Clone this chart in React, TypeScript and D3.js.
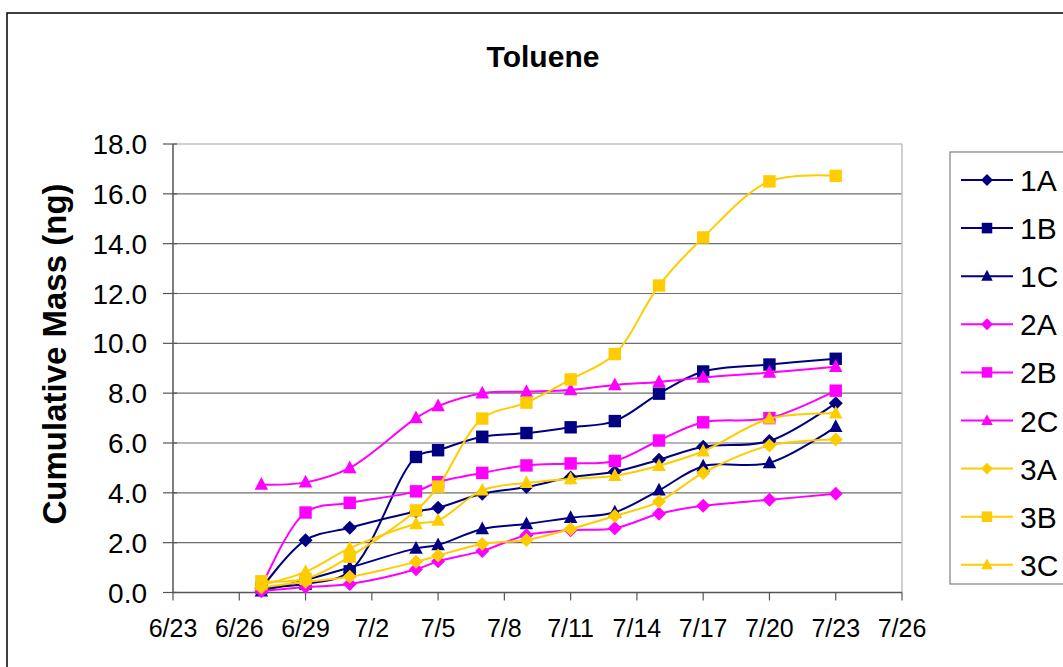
import React from "react";
import * as d3 from "d3";

const dates = ["6/27", "6/29", "7/1", "7/4", "7/5", "7/7", "7/9", "7/11", "7/13", "7/15", "7/17", "7/20", "7/23"];
const tickLabels = ["6/23", "6/26", "6/29", "7/2", "7/5", "7/8", "7/11", "7/14", "7/17", "7/20", "7/23", "7/26"];
const yTicks = [0, 2, 4, 6, 8, 10, 12, 14, 16, 18];

const s1A = [0.15, 2.1, 2.6, 3.25, 3.4, 3.96, 4.23, 4.62, 4.85, 5.33, 5.85, 6.08, 7.6];
const s1B = [0.2, 0.35, 0.85, 5.44, 5.71, 6.25, 6.4, 6.63, 6.88, 7.98, 8.87, 9.15, 9.38];
const s1C = [0.05, 0.5, 1.0, 1.77, 1.91, 2.55, 2.75, 3.0, 3.22, 4.1, 5.07, 5.2, 6.65];
const s2A = [0.05, 0.22, 0.34, 0.93, 1.25, 1.67, 2.3, 2.5, 2.58, 3.16, 3.48, 3.72, 3.96];
const s2B = [0.2, 3.21, 3.6, 4.06, 4.43, 4.8, 5.1, 5.18, 5.28, 6.1, 6.83, 7.0, 8.1];
const s2C = [4.33, 4.42, 5.0, 7.0, 7.48, 8.0, 8.06, 8.13, 8.33, 8.45, 8.63, 8.83, 9.06];
const s3A = [0.2, 0.43, 0.63, 1.23, 1.48, 1.95, 2.11, 2.55, 3.07, 3.65, 4.8, 5.9, 6.14];
const s3B = [0.45, 0.55, 1.44, 3.29, 4.25, 6.98, 7.62, 8.55, 9.57, 12.32, 14.25, 16.5, 16.72];
const s3C = [0.3, 0.83, 1.78, 2.75, 2.89, 4.1, 4.4, 4.56, 4.69, 5.09, 5.67, 6.98, 7.19];

const seriesNames = ["1A", "1B", "1C", "2A", "2B", "2C", "3A", "3B", "3C"];
const seriesValues = [s1A, s1B, s1C, s2A, s2B, s2C, s3A, s3B, s3C];
const seriesColors = ["#000080", "#000080", "#000080", "#FF00FF", "#FF00FF", "#FF00FF", "#FFCC00", "#FFCC00", "#FFCC00"];
const seriesShapes = ["diamond", "square", "triangle", "diamond", "square", "triangle", "diamond", "square", "triangle"];

const YEAR = 2007;
const parseMD = (s: string) => {
  const [m, d] = s.split("/").map(Number);
  return new Date(Date.UTC(YEAR, m - 1, d));
};

const W = 1063;
const H = 667;
const plot = { left: 173, right: 902, top: 144, bottom: 592.5 };

function Marker({ shape, x, y, color, scale = 1 }: { shape: string; x: number; y: number; color: string; scale?: number }) {
  if (shape === "diamond") {
    const r = 7 * scale;
    return <path d={`M${x},${y - r}L${x + r},${y}L${x},${y + r}L${x - r},${y}Z`} fill={color} />;
  }
  if (shape === "square") {
    const r = 6.2 * scale;
    return <rect x={x - r} y={y - r} width={2 * r} height={2 * r} fill={color} />;
  }
  const r = 7.5 * scale;
  return <path d={`M${x},${y - r}L${x + r * 0.9},${y + r * 0.7}L${x - r * 0.9},${y + r * 0.7}Z`} fill={color} />;
}

export default function App() {
  const x = d3.scaleUtc().domain([parseMD("6/23"), parseMD("7/26")]).range([plot.left, plot.right]);
  const y = d3.scaleLinear().domain([0, 18]).range([plot.bottom, plot.top]);
  const line = d3
    .line<[Date, number]>()
    .x((d) => x(d[0]))
    .y((d) => y(d[1]))
    .curve(d3.curveCatmullRom.alpha(0.5));

  const dateObjs = dates.map(parseMD);

  const legendX = 950;
  const legendTop = 152;
  const legendRowY = (i: number) => 180 + i * 48.1;

  return (
    <svg width={W} height={H} style={{ position: "absolute", left: 0, top: 0, background: "#fff" }} fontFamily="Arial, 'Liberation Sans', sans-serif">
      <rect x={7} y={13} width={W + 20} height={H + 20} fill="#fff" stroke="#000" strokeWidth={1.5} />
      <text x={543} y={67} textAnchor="middle" fontSize={30} fontWeight="bold">Toluene</text>

      {yTicks.filter((t) => t > 0 && t < 18).map((t) => (
        <line key={t} x1={plot.left} x2={plot.right} y1={y(t)} y2={y(t)} stroke="#6e6e6e" strokeWidth={1.2} />
      ))}
      <line x1={plot.left} x2={plot.right} y1={plot.top} y2={plot.top} stroke="#c0c0c0" strokeWidth={1.5} />
      <line x1={plot.right} x2={plot.right} y1={plot.top} y2={plot.bottom} stroke="#c0c0c0" strokeWidth={1.5} />

      <line x1={plot.left} x2={plot.left} y1={plot.top} y2={plot.bottom} stroke="#555" strokeWidth={1.5} />
      {yTicks.map((t) => (
        <g key={t}>
          <line x1={163} x2={177} y1={y(t)} y2={y(t)} stroke="#555" strokeWidth={1.2} />
          <text x={147} y={y(t) + 10} textAnchor="end" fontSize={28}>{t.toFixed(1)}</text>
        </g>
      ))}
      <text transform={`translate(66,354) rotate(-90)`} textAnchor="middle" fontSize={33} fontWeight="bold">Cumulative Mass (ng)</text>

      <line x1={plot.left} x2={plot.right} y1={plot.bottom} y2={plot.bottom} stroke="#555" strokeWidth={1.5} />
      {tickLabels.map((t) => {
        const xx = x(parseMD(t));
        return (
          <g key={t}>
            <line x1={xx} x2={xx} y1={plot.bottom} y2={plot.bottom + 8} stroke="#555" strokeWidth={1.2} />
            <text x={xx} y={637} textAnchor="middle" fontSize={25}>{t}</text>
          </g>
        );
      })}

      {seriesValues.map((vals, si) => {
        const pts: [Date, number][] = vals.map((v, i) => [dateObjs[i], v]);
        return (
          <g key={seriesNames[si]}>
            <path d={line(pts) || ""} fill="none" stroke={seriesColors[si]} strokeWidth={2} />
            {pts.map((p, i) => (
              <Marker key={i} shape={seriesShapes[si]} x={x(p[0])} y={y(p[1])} color={seriesColors[si]} />
            ))}
          </g>
        );
      })}

      <rect x={legendX} y={legendTop} width={200} height={432} fill="#fff" stroke="#808080" strokeWidth={1.2} />
      {seriesNames.map((n, i) => {
        const ly = legendRowY(i);
        return (
          <g key={n}>
            <line x1={961} x2={1013} y1={ly} y2={ly} stroke={seriesColors[i]} strokeWidth={2} />
            <Marker shape={seriesShapes[i]} x={987} y={ly} color={seriesColors[i]} scale={0.85} />
            <text x={1020} y={ly + 11} fontSize={30}>{n}</text>
          </g>
        );
      })}
    </svg>
  );
}
